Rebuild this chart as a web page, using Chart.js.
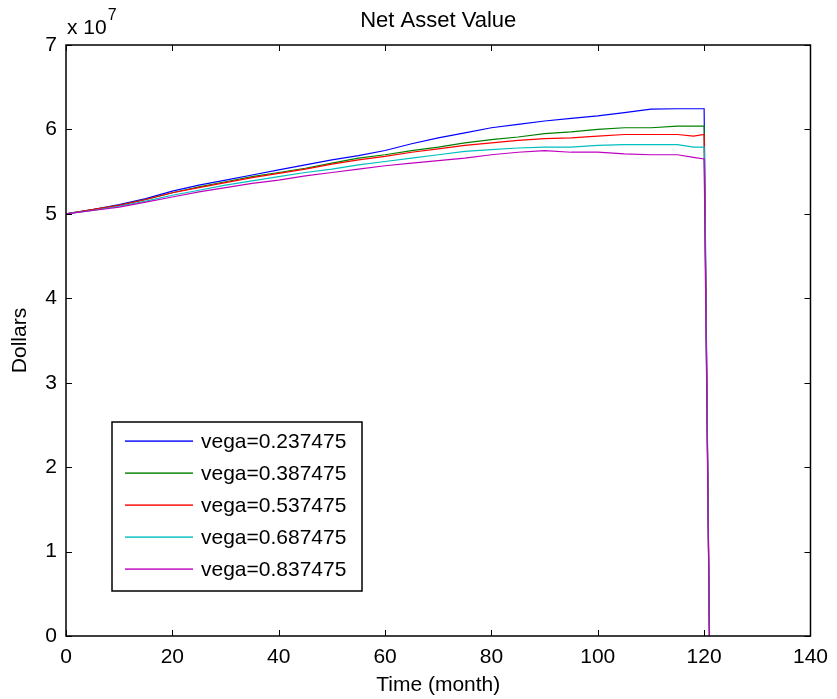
<!DOCTYPE html>
<html>
<head>
<meta charset="utf-8">
<title>Net Asset Value</title>
<script src="https://cdn.jsdelivr.net/npm/chart.js@4/dist/chart.umd.min.js"></script>
<style>
  html, body { margin: 0; padding: 0; background: #fff; }
  canvas { display: block; }
</style>
</head>
<body>
<canvas id="navChart" width="837" height="699"></canvas>
<script>
// months sampled along the run (last step is the liquidation to zero)
var months = [0, 5, 10, 15, 20, 25, 30, 35, 40, 45, 50, 55, 60, 65, 70, 75, 80, 85, 90, 95, 100, 105, 110, 115, 118, 120, 121];

// net asset value, in units of 10^7 dollars
var nav1 = [5.00, 5.05, 5.11, 5.18, 5.27, 5.34, 5.40, 5.46, 5.52, 5.58, 5.64, 5.69, 5.75, 5.83, 5.90, 5.96, 6.02, 6.06, 6.10, 6.13, 6.16, 6.20, 6.24, 6.245, 6.245, 6.245, 0];
var nav2 = [5.00, 5.05, 5.10, 5.17, 5.25, 5.32, 5.38, 5.44, 5.49, 5.54, 5.60, 5.66, 5.70, 5.75, 5.79, 5.84, 5.88, 5.91, 5.95, 5.97, 6.00, 6.02, 6.02, 6.04, 6.04, 6.04, 0];
var nav3 = [5.00, 5.05, 5.10, 5.17, 5.25, 5.31, 5.37, 5.43, 5.48, 5.53, 5.59, 5.64, 5.68, 5.73, 5.77, 5.81, 5.84, 5.87, 5.89, 5.90, 5.92, 5.94, 5.94, 5.94, 5.92, 5.94, 0];
var nav4 = [5.00, 5.04, 5.09, 5.15, 5.22, 5.28, 5.34, 5.39, 5.44, 5.49, 5.53, 5.58, 5.62, 5.66, 5.70, 5.74, 5.76, 5.78, 5.79, 5.79, 5.81, 5.82, 5.82, 5.82, 5.79, 5.79, 0];
var nav5 = [5.00, 5.04, 5.08, 5.14, 5.20, 5.26, 5.31, 5.36, 5.40, 5.45, 5.49, 5.53, 5.57, 5.60, 5.63, 5.66, 5.70, 5.73, 5.75, 5.73, 5.73, 5.71, 5.70, 5.70, 5.67, 5.65, 0];

var seriesLabels = ["vega=0.237475", "vega=0.387475", "vega=0.537475", "vega=0.687475", "vega=0.837475"];
var seriesColors = ["#0000ff", "#008000", "#ff0000", "#00bfbf", "#bf00bf"];

var xTicks = [0, 20, 40, 60, 80, 100, 120, 140];
var yTicks = [0, 1, 2, 3, 4, 5, 6, 7];

var FONT = "'Liberation Sans', Arial, sans-serif";

function toPoints(values) {
  var pts = [];
  for (var i = 0; i < months.length; i++) {
    pts.push({ x: months[i], y: values[i] });
  }
  return pts;
}

// box, inward ticks, title, exponent and legend in the MATLAB look
var matlabFrame = {
  id: "matlabFrame",
  afterDraw: function (chart) {
    var c = chart.ctx;
    var a = chart.chartArea;
    var xs = chart.scales.x;
    var ys = chart.scales.y;
    var tick = 6;

    c.save();
    c.strokeStyle = "#000";
    c.lineWidth = 1.5;
    c.strokeRect(a.left, a.top, a.right - a.left, a.bottom - a.top);

    c.lineWidth = 1;
    c.beginPath();
    xTicks.forEach(function (v) {
      var px = Math.round(xs.getPixelForValue(v)) + 0.5;
      c.moveTo(px, a.bottom);
      c.lineTo(px, a.bottom - tick);
      c.moveTo(px, a.top);
      c.lineTo(px, a.top + tick);
    });
    yTicks.forEach(function (v) {
      var py = Math.round(ys.getPixelForValue(v)) + 0.5;
      c.moveTo(a.left, py);
      c.lineTo(a.left + tick, py);
      c.moveTo(a.right, py);
      c.lineTo(a.right - tick, py);
    });
    c.stroke();

    // title
    c.fillStyle = "#000";
    c.textAlign = "center";
    c.textBaseline = "middle";
    c.font = "22px " + FONT;
    c.fillText("Net Asset Value", (a.left + a.right) / 2, 21);

    // exponent marker
    c.textAlign = "left";
    c.textBaseline = "alphabetic";
    c.font = "21px " + FONT;
    c.fillText("x 10", a.left + 1, 34);
    var w = c.measureText("x 10").width;
    c.font = "16px " + FONT;
    c.fillText("7", a.left + 2 + w, 20);

    // legend box
    var lx = 112, ly = 422, lw = 250, lh = 169;
    c.fillStyle = "#fff";
    c.fillRect(lx, ly, lw, lh);
    c.strokeStyle = "#000";
    c.lineWidth = 1.5;
    c.strokeRect(lx, ly, lw, lh);

    // legend entries
    c.font = "21px " + FONT;
    c.textBaseline = "middle";
    for (var i = 0; i < seriesLabels.length; i++) {
      var rowY = ly + 19 + i * 32;
      c.fillStyle = seriesColors[i];
      c.fillRect(lx + 13, rowY - 0.6, 68, 1.4);
      c.fillStyle = "#000";
      c.fillText(seriesLabels[i], lx + 89, rowY + 1);
    }
    c.restore();
  }
};

var navs = [nav1, nav2, nav3, nav4, nav5];
var datasets = navs.map(function (vals, i) {
  return {
    label: seriesLabels[i],
    data: toPoints(vals),
    borderColor: seriesColors[i],
    backgroundColor: seriesColors[i],
    borderWidth: 1.2,
    pointRadius: 0,
    tension: 0,
    fill: false,
    order: navs.length - 1 - i
  };
});

var ctx = document.getElementById("navChart").getContext("2d");
var navChart = new Chart(ctx, {
  type: "line",
  data: { datasets: datasets },
  options: {
    responsive: false,
    animation: false,
    layout: { padding: { top: 45, right: 21, left: 0, bottom: 0 } },
    plugins: {
      legend: { display: false },
      title: { display: false },
      tooltip: { enabled: false }
    },
    scales: {
      x: {
        type: "linear",
        min: 0,
        max: 140,
        afterBuildTicks: function (scale) {
          scale.ticks = xTicks.map(function (v) { return { value: v }; });
        },
        afterFit: function (scale) { scale.height = 63; },
        grid: { display: false, drawTicks: false },
        border: { display: false },
        ticks: { color: "#000", font: { family: FONT, size: 21 }, padding: 9, maxRotation: 0 },
        title: { display: true, text: "Time (month)", color: "#000", font: { family: FONT, size: 21 }, padding: { top: 0, bottom: 1 } }
      },
      y: {
        type: "linear",
        min: 0,
        max: 7,
        afterBuildTicks: function (scale) {
          scale.ticks = yTicks.map(function (v) { return { value: v }; });
        },
        afterFit: function (scale) { scale.width = 66; },
        grid: { display: false, drawTicks: false },
        border: { display: false },
        ticks: { color: "#000", font: { family: FONT, size: 21 }, padding: 9 },
        title: { display: true, text: "Dollars", color: "#000", font: { family: FONT, size: 21 }, padding: { top: 8, bottom: 0 } }
      }
    }
  },
  plugins: [matlabFrame]
});
</script>
</body>
</html>
